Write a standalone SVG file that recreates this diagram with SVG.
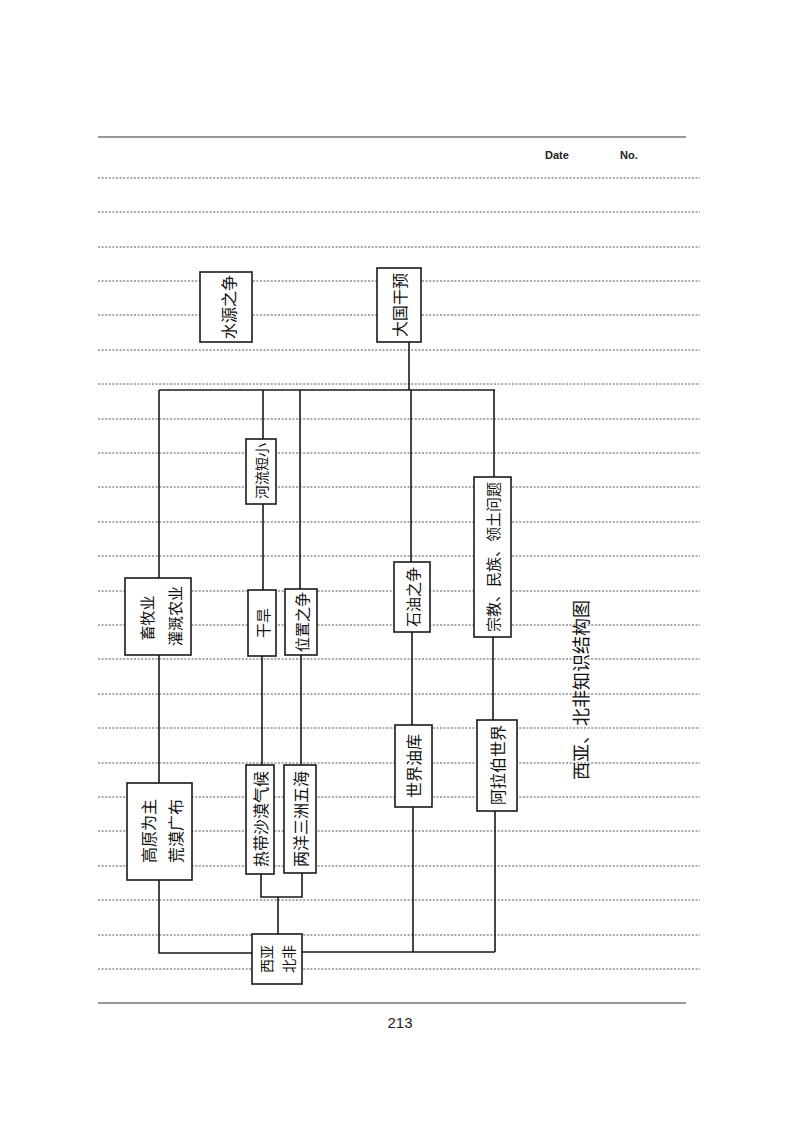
<svg xmlns="http://www.w3.org/2000/svg" width="800" height="1132" viewBox="0 0 800 1132">
<style>
.page{stroke:#333;stroke-width:1.2;fill:none}
.dot{stroke:#555;stroke-width:1;stroke-dasharray:2 1.6;fill:none}
.box{fill:#fff;stroke:#1a1a1a;stroke-width:1.6}
.conn{stroke:#1a1a1a;stroke-width:1.6;fill:none}
.t{font-family:"Noto Sans CJK SC","Noto Sans",sans-serif;fill:#111;text-anchor:middle;dominant-baseline:central}
.hdr{font-family:"Liberation Sans",Arial,sans-serif;font-size:11px;font-weight:bold;fill:#222}
</style>
<rect width="800" height="1132" fill="#fff"/>
<g id="page">
<path class="page" d="M98 137H686M98 1003H686"/>
<text class="hdr" x="545" y="159">Date</text>
<text class="hdr" x="620" y="159">No.</text>
<path class="dot" d="M98 178H700M98 212H700M98 247H700M98 281H700M98 315H700M98 350H700M98 384H700M98 419H700M98 453H700M98 487H700M98 522H700M98 556H700M98 591H700M98 625H700M98 659H700M98 694H700M98 728H700M98 763H700M98 797H700M98 831H700M98 866H700M98 900H700M98 935H700M98 969H700"/>
<text x="400" y="1028" font-family="Liberation Sans,Arial,sans-serif" font-size="15" fill="#222" text-anchor="middle">213</text>
</g>
<g id="connectors">
<path class="conn" d="M159 390H495"/>
<path class="conn" d="M159 390V578M159 655V783M159 880V953H252"/>
<path class="conn" d="M263 390V439M263 504V590M262 656V765M261 874V897H302V873"/>
<path class="conn" d="M300 390V589M301 655V765"/>
<path class="conn" d="M278 897V934"/>
<path class="conn" d="M409 342V390"/>
<path class="conn" d="M411 390V562M412 632V725M413 807V952"/>
<path class="conn" d="M494 390V477M493 637V720M495 811V952"/>
<path class="conn" d="M302 952H495"/>
</g>
<g id="n-shuiyuan">
<rect class="box" x="200" y="272" width="52" height="70"/>
<text class="t" font-size="16" transform="translate(228,307) rotate(-90)">水源之争</text>
</g>
<g id="n-daguo">
<rect class="box" x="377" y="268" width="44" height="74"/>
<text class="t" font-size="16" transform="translate(399,305) rotate(-90)">大国干预</text>
</g>
<g id="n-heliu">
<rect class="box" x="246" y="439" width="30" height="65"/>
<text class="t" font-size="14" transform="translate(261,471) rotate(-90)">河流短小</text>
</g>
<g id="n-xumu">
<rect class="box" x="125" y="578" width="66" height="77"/>
<text class="t" font-size="15" transform="translate(146,618) rotate(-90)">畜牧业</text>
<text class="t" font-size="15" transform="translate(174,616) rotate(-90)">灌溉农业</text>
</g>
<g id="n-ganhan">
<rect class="box" x="248" y="590" width="28" height="66"/>
<text class="t" font-size="15" transform="translate(262,623) rotate(-90)">干旱</text>
</g>
<g id="n-weizhi">
<rect class="box" x="285" y="589" width="32" height="66"/>
<text class="t" font-size="15" transform="translate(301,622) rotate(-90)">位置之争</text>
</g>
<g id="n-shiyou">
<rect class="box" x="394" y="562" width="36" height="70"/>
<text class="t" font-size="15" transform="translate(412,597) rotate(-90)">石油之争</text>
</g>
<g id="n-zongjiao">
<rect class="box" x="474" y="477" width="37" height="160"/>
<text class="t" font-size="15" transform="translate(492,557) rotate(-90)">宗教、民族、领土问题</text>
</g>
<g id="n-gaoyuan">
<rect class="box" x="127" y="783" width="65" height="97"/>
<text class="t" font-size="16" transform="translate(148,831) rotate(-90)">高原为主</text>
<text class="t" font-size="16" transform="translate(175,831) rotate(-90)">荒漠广布</text>
</g>
<g id="n-redai">
<rect class="box" x="246" y="765" width="28" height="109"/>
<text class="t" font-size="16" transform="translate(260,819) rotate(-90)">热带沙漠气候</text>
</g>
<g id="n-liangyang">
<rect class="box" x="284" y="765" width="32" height="108"/>
<text class="t" font-size="16" transform="translate(300,819) rotate(-90)">两洋三洲五海</text>
</g>
<g id="n-shijie">
<rect class="box" x="395" y="725" width="37" height="82"/>
<text class="t" font-size="16" transform="translate(413,766) rotate(-90)">世界油库</text>
</g>
<g id="n-alabo">
<rect class="box" x="477" y="720" width="40" height="91"/>
<text class="t" font-size="16" transform="translate(497,765) rotate(-90)">阿拉伯世界</text>
</g>
<g id="n-root">
<rect class="box" x="252" y="934" width="50" height="50"/>
<text class="t" font-size="14" transform="translate(266,959) rotate(-90)">西亚</text>
<text class="t" font-size="14" transform="translate(288,959) rotate(-90)">北非</text>
</g>
<g id="caption">
<text class="t" font-size="18" transform="translate(580,690) rotate(-90)">西亚、北非知识结构图</text>
</g>
</svg>
